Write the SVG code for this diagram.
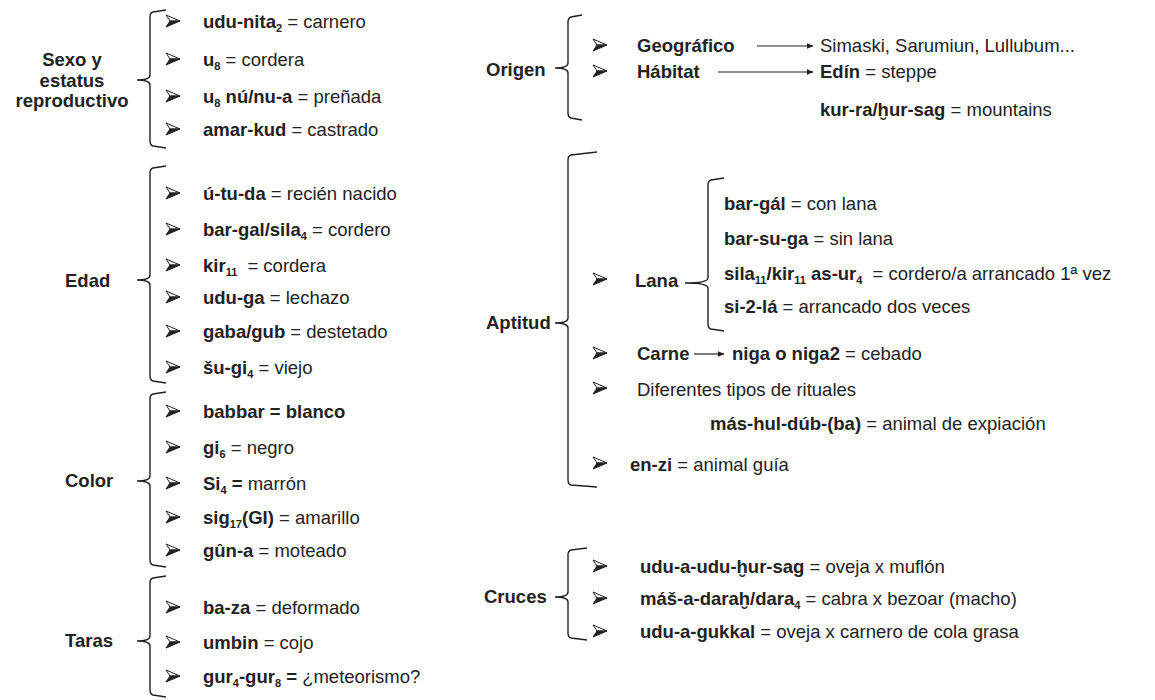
<svg xmlns="http://www.w3.org/2000/svg" xmlns:xlink="http://www.w3.org/1999/xlink" width="1155" height="700" viewBox="0 0 1155 700">
<defs>
<style>
text{font-family:"Liberation Sans",Arial,sans-serif;font-size:18.5px;fill:#222}
.b{font-weight:bold}
.lbl{font-weight:bold}
.s{font-size:11px}
.br{fill:none;stroke:#222;stroke-width:1.4}
.con{fill:none;stroke:#222;stroke-width:1.2}
</style>
<g id="bul">
<path d="M-7,-6 L7,0 L-3,0 Z" fill="#fff" stroke="#222" stroke-width="1" stroke-linejoin="round"/>
<path d="M-3,0 L7,0 L-7,6 Z" fill="#222" stroke="#222" stroke-width="1" stroke-linejoin="round"/>
</g>
<marker id="ah" viewBox="0 0 10 10" refX="9" refY="5" markerWidth="7" markerHeight="7" orient="auto" markerUnits="userSpaceOnUse">
<path d="M0,1 L10,5 L0,9 Z" fill="#222"/>
</marker>
</defs>
<rect width="1155" height="700" fill="#fff"/>

<g id="sexo">
<text class="lbl" x="72" y="66" text-anchor="middle">Sexo y</text>
<text class="lbl" x="72" y="87" text-anchor="middle">estatus</text>
<text class="lbl" x="72" y="107" text-anchor="middle">reproductivo</text>
<path class="br" d="M166,10 L153,12 Q150,13 150,17 L150,75 Q150,80 137,80 Q150,80 150,85 L150,141 Q150,145 153,146 L166,148"/>
<use href="#bul" x="173" y="21"/>
<use href="#bul" x="173" y="59"/>
<use href="#bul" x="173" y="96"/>
<use href="#bul" x="173" y="129"/>
<text x="203" y="28"><tspan class="b">udu-nita</tspan><tspan class="s b" dy="4">2</tspan><tspan dy="-4"> = carnero</tspan></text>
<text x="203" y="66"><tspan class="b">u</tspan><tspan class="s b" dy="4">8</tspan><tspan dy="-4"> = cordera</tspan></text>
<text x="203" y="103"><tspan class="b">u</tspan><tspan class="s b" dy="4">8</tspan><tspan class="b" dy="-4"> nú/nu-a</tspan><tspan> = preñada</tspan></text>
<text x="203" y="136"><tspan class="b">amar-kud</tspan><tspan> = castrado</tspan></text>
</g>

<g id="edad">
<text class="lbl" x="65" y="287">Edad</text>
<path class="br" d="M166,166 L153,168 Q150,169 150,173 L150,275 Q150,280 137,280 Q150,280 150,285 L150,376 Q150,380 153,381 L166,383"/>
<use href="#bul" x="173" y="193"/>
<use href="#bul" x="173" y="229"/>
<use href="#bul" x="173" y="265"/>
<use href="#bul" x="173" y="297"/>
<use href="#bul" x="173" y="331"/>
<use href="#bul" x="173" y="367"/>
<text x="203" y="200"><tspan class="b">ú-tu-da</tspan><tspan> = recién nacido</tspan></text>
<text x="203" y="236"><tspan class="b">bar-gal/sila</tspan><tspan class="s b" dy="4">4</tspan><tspan dy="-4"> = cordero</tspan></text>
<text x="203" y="272"><tspan class="b">kir</tspan><tspan class="s b" dy="4">11</tspan><tspan dy="-4" dx="5"> = cordera</tspan></text>
<text x="203" y="304"><tspan class="b">udu-ga</tspan><tspan> = lechazo</tspan></text>
<text x="203" y="338"><tspan class="b">gaba/gub</tspan><tspan> = destetado</tspan></text>
<text x="203" y="374"><tspan class="b">šu-gi</tspan><tspan class="s b" dy="4">4</tspan><tspan dy="-4"> = viejo</tspan></text>
</g>

<g id="color">
<text class="lbl" x="65" y="487">Color</text>
<path class="br" d="M166,392 L153,394 Q150,395 150,399 L150,476 Q150,481 137,481 Q150,481 150,486 L150,560 Q150,564 153,565 L166,567"/>
<use href="#bul" x="173" y="411"/>
<use href="#bul" x="173" y="447"/>
<use href="#bul" x="173" y="483"/>
<use href="#bul" x="173" y="517"/>
<use href="#bul" x="173" y="550"/>
<text x="203" y="418" class="b">babbar = blanco</text>
<text x="203" y="454"><tspan class="b">gi</tspan><tspan class="s b" dy="4">6</tspan><tspan dy="-4"> = negro</tspan></text>
<text x="203" y="490"><tspan class="b">Si</tspan><tspan class="s b" dy="4">4</tspan><tspan dy="-4" class="b"> =</tspan><tspan> marrón</tspan></text>
<text x="203" y="524"><tspan class="b">sig</tspan><tspan class="s b" dy="4">17</tspan><tspan class="b" dy="-4">(GI)</tspan><tspan> = amarillo</tspan></text>
<text x="203" y="557"><tspan class="b">gûn-a</tspan><tspan> = moteado</tspan></text>
</g>

<g id="taras">
<text class="lbl" x="65" y="647">Taras</text>
<path class="br" d="M166,576 L153,578 Q150,579 150,583 L150,636 Q150,641 137,641 Q150,641 150,646 L150,690 Q150,694 153,695 L166,697"/>
<use href="#bul" x="173" y="607"/>
<use href="#bul" x="173" y="642"/>
<use href="#bul" x="173" y="676"/>
<text x="203" y="614"><tspan class="b">ba-za</tspan><tspan> = deformado</tspan></text>
<text x="203" y="649"><tspan class="b">umbin</tspan><tspan> = cojo</tspan></text>
<text x="203" y="683"><tspan class="b">gur</tspan><tspan class="s b" dy="4">4</tspan><tspan class="b" dy="-4">-gur</tspan><tspan class="s b" dy="4">8</tspan><tspan class="b" dy="-4"> = </tspan><tspan>¿meteorismo?</tspan></text>
</g>

<g id="origen">
<text class="lbl" x="486" y="76">Origen</text>
<path class="br" d="M582,15 L571,17 Q568,18 568,22 L568,63 Q568,68 555,68 Q568,68 568,73 L568,113 Q568,117 571,118 L582,120"/>
<use href="#bul" x="600" y="45"/>
<use href="#bul" x="600" y="71"/>
<text x="637" y="52" class="b">Geográfico</text>
<text x="637" y="78" class="b">Hábitat</text>
<text x="820" y="52">Simaski, Sarumiun, Lullubum...</text>
<text x="820" y="78"><tspan class="b">Edín</tspan><tspan> = steppe</tspan></text>
<text x="820" y="116"><tspan class="b">kur-ra/ḫur-sag</tspan><tspan> = mountains</tspan></text>
</g>

<g id="aptitud">
<text class="lbl" x="486" y="329">Aptitud</text>
<path class="br" d="M597,152 L571,155 Q568,156 568,160 L568,318 Q568,323 555,323 Q568,323 568,328 L568,480 Q568,484 571,485 L597,487"/>
<use href="#bul" x="600" y="279"/>
<use href="#bul" x="600" y="353"/>
<use href="#bul" x="600" y="388"/>
<use href="#bul" x="600" y="463"/>
<text x="635" y="287" class="lbl">Lana</text>
<text x="637" y="360" class="b">Carne</text>
<text x="732" y="360"><tspan class="b">niga o niga2</tspan><tspan> = cebado</tspan></text>
<text x="637" y="396">Diferentes tipos de rituales</text>
<text x="710" y="430"><tspan class="b">más-hul-dúb-(ba)</tspan><tspan> = animal de expiación</tspan></text>
<text x="630" y="471"><tspan class="b">en-zi</tspan><tspan> = animal guía</tspan></text>
</g>

<g id="lana">
<path class="br" d="M724,178 L711,180 Q708,181 708,185 L708,278 Q708,283 685,283 Q708,283 708,288 L708,324 Q708,328 711,329 L724,331"/>
<text x="724" y="210"><tspan class="b">bar-gál</tspan><tspan> = con lana</tspan></text>
<text x="724" y="245"><tspan class="b">bar-su-ga</tspan><tspan> = sin lana</tspan></text>
<text x="724" y="280"><tspan class="b">sila</tspan><tspan class="s b" dy="4">11</tspan><tspan class="b" dy="-4">/kir</tspan><tspan class="s b" dy="4">11</tspan><tspan class="b" dy="-4"> as-ur</tspan><tspan class="s b" dy="4">4</tspan><tspan dy="-4" dx="5"> = cordero/a arrancado 1ª vez</tspan></text>
<text x="724" y="313"><tspan class="b">si-2-lá</tspan><tspan> = arrancado dos veces</tspan></text>
</g>

<g id="cruces">
<text class="lbl" x="484" y="603">Cruces</text>
<path class="br" d="M587,548 L571,550 Q568,551 568,555 L568,592 Q568,597 555,597 Q568,597 568,602 L568,633 Q568,637 571,638 L587,640"/>
<use href="#bul" x="600" y="566"/>
<use href="#bul" x="600" y="598"/>
<use href="#bul" x="600" y="631"/>
<text x="640" y="573"><tspan class="b">udu-a-udu-ḫur-sag</tspan><tspan> = oveja x muflón</tspan></text>
<text x="640" y="605"><tspan class="b">máš-a-daraḫ/dara</tspan><tspan class="s b" dy="4">4</tspan><tspan dy="-4"> = cabra x bezoar (macho)</tspan></text>
<text x="640" y="638"><tspan class="b">udu-a-gukkal</tspan><tspan> = oveja x carnero de cola grasa</tspan></text>
</g>

<g id="connectors">
<line class="con" x1="757" y1="46" x2="813" y2="46" marker-end="url(#ah)"/>
<line class="con" x1="718" y1="72" x2="813" y2="72" marker-end="url(#ah)"/>
<line class="con" x1="694" y1="354" x2="724" y2="354" marker-end="url(#ah)"/>
</g>
</svg>
